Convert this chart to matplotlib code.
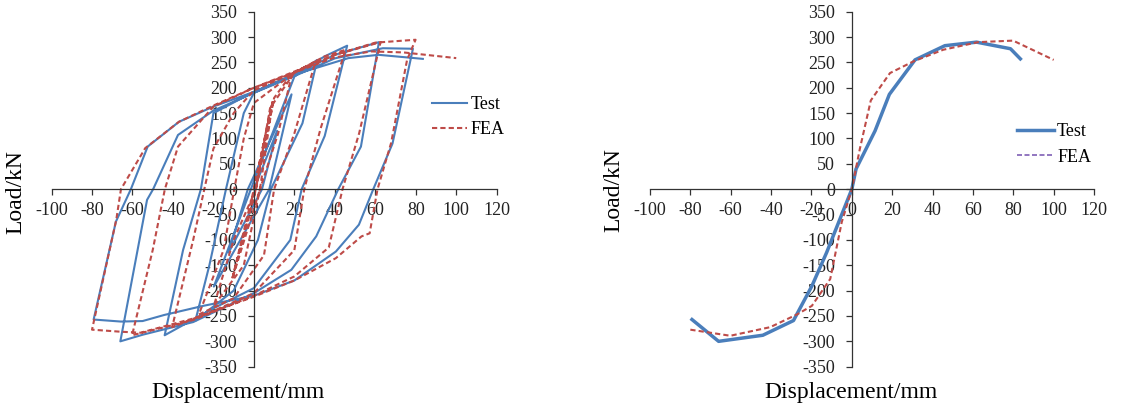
import matplotlib.pyplot as plt
from matplotlib.lines import Line2D

# hysteresis curves (left)
hyst_test_x = [0, 11.5, 4, -12.5, -3, 18.6, 7.6, -19.8, -1.5, 20, 31.3, 24, 8.4, 2, -10, -28.9,
               -22, -13.8, -5, 0, 20, 35, 46.1, 35, 23.6, 18, 0, -20, -44.1, -35, -26.2, -20, 0,
               20, 40, 61.8, 52.9, 41.7, 30.8, 18.5, 0, -30, -55, -66, -52.8, -49.8, -37.5, -20,
               0, 20, 40, 63.7, 78.6, 68.5, 59, 51.9, 40.5, 20, 0, -25, -44.3, -55, -65.7, -79.2,
               -68.2, -60.8, -52.5, -37, -20, 0, 20, 46.7, 61.6, 83.5]
hyst_test_y = [0, 115, 0, -125, 0, 187, 0, -192, 0, 222, 255, 130, 0, -100, -200, -259,
               -150, 0, 150, 190, 226, 262, 283, 105, 0, -100, -195, -235, -288, -120, 0, 150, 192,
               226, 265, 290, 84, 0, -93, -159, -205, -262, -287, -300, -21, 0, 107, 155,
               190, 223, 258, 278, 277, 90, 0, -70, -123, -180, -210, -230, -248, -260, -261, -257,
               -64, 0, 84, 133, 163, 192, 226, 258.5, 265, 257]
hyst_fea_x = [0, 5, 9.4, 3, -10.7, 0, 9.4, 1, -10.7, 1, 10, 18.9, 12, 3, -5, -19.8, -10, 1, 8,
              20, 30.5, 20, 10, 5, -10, -27.2, -15, -9.7, -5, 0, 20, 35, 45.3, 33, 24.9, 20, 0,
              -20, -40.4, -30, -24.5, -20, -10, 0, 20, 40, 62.6, 52, 43.8, 37, 20, 0, -30, -60.2,
              -50, -44, -37.5, -20, 0, 20, 40, 60, 79.9, 75.7, 67.8, 61.1, 57.2, 53.2, 40.5, 20, 0,
              -30, -56, -66, -80, -68, -65.7, -53.7, -37, -20, 0, 20, 40, 58, 74, 100]
hyst_fea_y = [0, 95, 175, 0, -177, 0, 175, 0, -177, 0, 180, 229, 110, 0, -150, -230, -100, 0, 160,
              230, 252, 110, 0, -130, -215, -247, -120, 0, 100, 170, 230, 262, 275, 120, 0, -120, -205,
              -240, -272, -100, 0, 80, 150, 195, 230, 265, 290, 110, 0, -115, -172, -210, -258, -288,
              -120, 0, 84, 163, 200, 232, 265, 289, 294.7, 255, 91, 0, -87, -93, -136, -180, -212,
              -255, -283, -281, -277, -60, 0, 81, 133, 165, 200, 230, 260, 271.7, 269.7, 258.5]

# skeleton curves (right)
skel_test_x = [-79.2, -66, -44.1, -28.9, -19.8, -12.5, 0, 2.1, 11.5, 18.6, 31.3, 46.1, 61.8, 78.6, 83.5]
skel_test_y = [-257, -300, -288, -259, -191, -125, 0, 40, 115, 187, 255, 283, 290, 277, 257]
skel_fea_x = [-80, -60.2, -40.4, -27.2, -19.8, -10.7, -5, 0, 4, 9.4, 18.9, 30.5, 45.3, 62.6, 79.9, 100]
skel_fea_y = [-277, -289, -272, -247, -230, -177, -65, 0, 80, 175, 229, 252, 275, 290, 293, 255]

x_ticks = list(range(-100, 121, 20))
y_ticks = list(range(-350, 351, 50))

blue = '#4A7EBB'
red = '#BE4B48'
purple = '#7F5FB5'

plt.rcParams['font.family'] = ['Liberation Serif', 'DejaVu Serif']
plt.rcParams['axes.unicode_minus'] = False

fig = plt.figure(figsize=(11.23, 4.11), dpi=100)
ax1 = fig.add_axes([0.0459, 0.1078, 0.3964, 0.8637])
ax2 = fig.add_axes([0.5788, 0.1078, 0.3954, 0.8637])

for ax in (ax1, ax2):
    ax.set_xlim(-100, 120)
    ax.set_ylim(-350, 350)
    ax.spines['left'].set_position(('data', 0))
    ax.spines['bottom'].set_position(('data', 0))
    ax.spines['top'].set_visible(False)
    ax.spines['right'].set_visible(False)
    for s in ('left', 'bottom'):
        ax.spines[s].set_color('#333333')
        ax.spines[s].set_linewidth(0.9)
    ax.set_xticks(x_ticks)
    ax.set_yticks(y_ticks)
    ax.tick_params(axis='x', direction='out', length=4, width=0.9, color='#333333',
                   labelsize=13, pad=5, labelcolor='#222222')
    ax.tick_params(axis='y', direction='out', length=4, width=0.9, color='#333333',
                   labelsize=13, pad=8, labelcolor='#222222')
    ax.patch.set_alpha(0)

ax1.plot(hyst_test_x, hyst_test_y, color=blue, lw=1.5, label='Test')
ax1.plot(hyst_fea_x, hyst_fea_y, color=red, lw=1.5, ls=(0, (2.5, 1.5)), label='FEA')
ax1.legend(loc='center left', bbox_to_anchor=(0.385, 0.7153), bbox_transform=fig.transFigure,
           frameon=False, fontsize=13, handlelength=1.9, handletextpad=0.2,
           borderpad=0, borderaxespad=0, labelspacing=0.45)

ax2.plot(skel_test_x, skel_test_y, color=blue, lw=2.5)
ax2.plot(skel_fea_x, skel_fea_y, color=red, lw=1.5, ls=(0, (2.5, 1.5)))
handles = [Line2D([], [], color=blue, lw=2.5),
           Line2D([], [], color=purple, lw=1.2, ls=(0, (3, 1.5)))]
ax2.legend(handles, ['Test', 'FEA'], loc='center left', bbox_to_anchor=(0.906, 0.6484),
           bbox_transform=fig.transFigure, frameon=False, fontsize=13, handlelength=2.0,
           handletextpad=0.2, borderpad=0, borderaxespad=0, labelspacing=0.45)

fig.text(238 / 1123, 1 - 392 / 411, 'Displacement/mm', ha='center', va='center', fontsize=17)
fig.text(851 / 1123, 1 - 392 / 411, 'Displacement/mm', ha='center', va='center', fontsize=17)
fig.text(15.5 / 1123, 1 - 192 / 411, 'Load/kN', ha='center', va='center', rotation=90, fontsize=17)
fig.text(613.7 / 1123, 1 - 190 / 411, 'Load/kN', ha='center', va='center', rotation=90, fontsize=17)

fig.savefig('out.png', dpi=100)
